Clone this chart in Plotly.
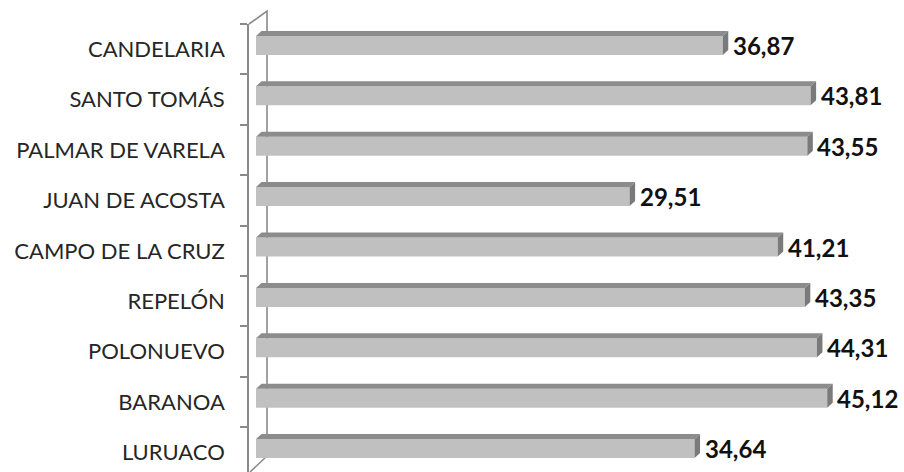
import plotly.graph_objects as go

# Municipios, listed from top to bottom as they appear on the chart
municipios = [
    "CANDELARIA", "SANTO TOMÁS", "PALMAR DE VARELA", "JUAN DE ACOSTA",
    "CAMPO DE LA CRUZ", "REPELÓN", "POLONUEVO", "BARANOA", "LURUACO",
]
valores = [36.87, 43.81, 43.55, 29.51, 41.21, 43.35, 44.31, 45.12, 34.64]

# Plotly category axes run bottom-up, so reverse for plotting
cats = municipios[::-1]
vals = valores[::-1]

# Canvas / plot geometry (pixels)
W, H = 904, 472
ML, MT = 249, 24
PW, PH = W - ML, H - MT
PX_PER_UNIT = 12.66          # horizontal scale
X0_PX = 256                   # pixel where value 0 sits
x_lo = -(X0_PX - ML) / PX_PER_UNIT
x_hi = x_lo + PW / PX_PER_UNIT
ROW_PX = 50.4
y_hi = len(cats) - 0.5
y_lo = y_hi - PH / ROW_PX

# Bar geometry in axis units
BAR_W = 19 / ROW_PX
BAR_SHIFT = 3.8 / ROW_PX       # front face sits slightly above the label line
BAR_OFF = BAR_SHIFT - BAR_W / 2
DX = 5.5 / PX_PER_UNIT         # oblique depth of the 3D bars
DY = 5.0 / ROW_PX

FRONT = "#c0c0c0"
TOP = "#8c8c8c"
SIDE = "#7a7a7a"
AXIS = "#8a8a8a"

fig = go.Figure()
fig.add_trace(go.Bar(
    y=cats, x=vals, orientation="h",
    width=BAR_W, offset=BAR_OFF,
    marker=dict(color=FRONT, line=dict(width=0)),
    hoverinfo="skip",
))

shapes = []


def px_to_paper(px, py):
    return (px - ML) / PW, (H - py) / PH


# back wall of the 3D category axis
bx, by_top = px_to_paper(267, 11)
_, by_bot = px_to_paper(267, 456)
fx, fy_top = px_to_paper(249, 24)
ex, ey = px_to_paper(250, 472)
line_style = dict(color=AXIS, width=1.6)
shapes.append(dict(type="path", xref="paper", yref="paper", layer="below",
                   path=f"M {fx},{fy_top} L {bx},{by_top} L {bx},{by_bot} L {ex},{ey}",
                   line=line_style))

# top and right faces of each bar
for i, v in enumerate(vals):
    yb = i + BAR_OFF
    yt = yb + BAR_W
    shapes.append(dict(type="path", xref="x", yref="y", layer="above",
                       path=f"M 0,{yt} L {v},{yt} L {v + DX},{yt + DY} L {DX},{yt + DY} Z",
                       fillcolor=TOP, line=dict(width=0)))
    shapes.append(dict(type="path", xref="x", yref="y", layer="above",
                       path=f"M {v},{yb} L {v},{yt} L {v + DX},{yt + DY} L {v + DX},{yb + DY} Z",
                       fillcolor=SIDE, line=dict(width=0)))

annotations = []
for i, v in enumerate(vals):
    annotations.append(dict(
        x=v, y=i + BAR_SHIFT, xref="x", yref="y",
        text=f"{v:.2f}".replace(".", ","),
        showarrow=False, xanchor="left", yanchor="middle", xshift=8,
        font=dict(family="Lato", size=24, color="#111111", weight="bold"),
    ))

fig.update_layout(
    width=W, height=H,
    margin=dict(l=ML, r=0, t=MT, b=0),
    paper_bgcolor="white", plot_bgcolor="white",
    showlegend=False,
    shapes=shapes,
    annotations=annotations,
    xaxis=dict(range=[x_lo, x_hi], visible=False, fixedrange=True),
    yaxis=dict(
        type="category", categoryorder="array", categoryarray=cats,
        range=[y_lo, y_hi],
        showline=True, linecolor=AXIS, linewidth=1.6,
        ticks="outside", tickson="boundaries", ticklen=7,
        tickcolor=AXIS, tickwidth=1.6,
        showgrid=False, zeroline=False,
        ticklabelstandoff=18,
        tickfont=dict(family="Lato", size=22, color="#262626"),
        fixedrange=True,
    ),
)

fig.write_html("out.html")
